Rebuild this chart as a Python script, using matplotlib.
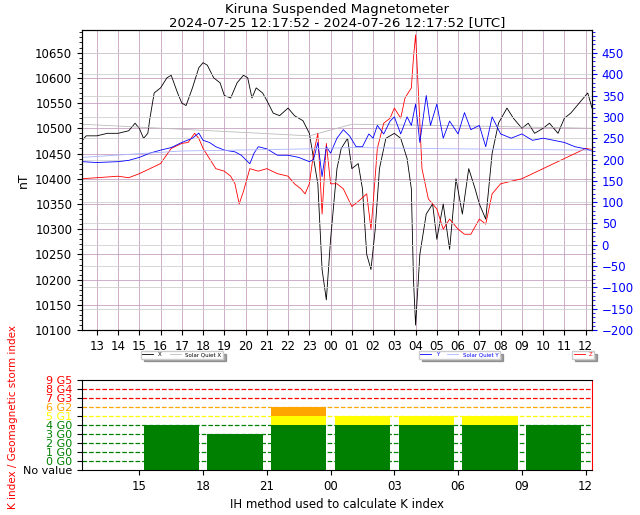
import matplotlib
matplotlib.use("Agg")
import matplotlib.pyplot as plt
from matplotlib.ticker import MultipleLocator

# hours since 2024-07-25 00:00 (24 = 00 next day)
x_t = [12.3, 12.5, 13, 13.5, 14, 14.5, 14.8, 15, 15.2, 15.4, 15.5, 15.7, 16, 16.3, 16.5, 16.8, 17, 17.2, 17.5, 17.8,
       18, 18.2, 18.5, 18.8, 19, 19.3, 19.6, 19.9, 20.1, 20.3, 20.5, 20.8, 21, 21.3, 21.6, 22, 22.3, 22.7, 23, 23.2,
       23.4, 23.6, 23.8, 24.0, 24.3, 24.5, 24.8, 25, 25.3, 25.5, 25.7, 25.9, 26.1, 26.3, 26.6, 27, 27.3, 27.6, 27.8,
       27.9, 28, 28.2, 28.5, 28.8, 29, 29.3, 29.6, 29.9, 30.2, 30.5, 30.8, 31, 31.3, 31.6, 31.9, 32.3, 32.6, 33, 33.3,
       33.6, 34, 34.3, 34.7, 35, 35.3, 35.6, 35.9, 36.1, 36.3]
x_v = [10475, 10485, 10485, 10490, 10490, 10495, 10510, 10500, 10480, 10490, 10520, 10570, 10580, 10600, 10605, 10570,
       10550, 10545, 10580, 10620, 10630, 10625, 10600, 10590, 10565, 10560, 10590, 10605, 10600, 10560, 10580, 10570,
       10555, 10530, 10525, 10540, 10525, 10515, 10490, 10440, 10390, 10220, 10160, 10280, 10420, 10460, 10480, 10420,
       10430, 10380, 10250, 10220, 10300, 10420, 10480, 10490, 10480, 10440, 10380, 10200, 10110, 10250, 10330, 10350,
       10280, 10350, 10260, 10400, 10330, 10420, 10380, 10350, 10320, 10450, 10510, 10540, 10520, 10500, 10510, 10490,
       10500, 10510, 10490, 10520, 10530, 10545, 10560, 10570, 10540]

z_t = [12.3, 13, 14, 14.5, 15, 15.5, 16, 16.5, 17, 17.3, 17.6, 17.8, 18, 18.3, 18.6, 19, 19.3, 19.5, 19.7, 19.9, 20.2,
       20.6, 21, 21.5, 22, 22.3, 22.6, 22.8, 23, 23.2, 23.4, 23.6, 23.8, 24, 24.3, 24.6, 25, 25.3, 25.7, 25.9, 26, 26.2,
       26.5, 26.8, 27, 27.3, 27.5, 27.8, 27.9, 28, 28.1, 28.3, 28.6, 29, 29.3, 29.6, 30, 30.3, 30.6, 31, 31.3, 31.6,
       32, 32.5, 33, 33.5, 34, 34.5, 35, 35.5, 36, 36.3]
z_v = [10400, 10402, 10405, 10402, 10410, 10420, 10430, 10460, 10470, 10472, 10490, 10480, 10460, 10440, 10420, 10415,
       10405, 10390, 10350, 10375, 10420, 10415, 10420, 10410, 10405, 10390, 10380, 10370, 10390, 10450, 10490, 10330,
       10470, 10390, 10390, 10380, 10345, 10355, 10370, 10300, 10350, 10460, 10510, 10520, 10540, 10520, 10560, 10580,
       10640, 10685, 10600, 10420, 10360, 10340, 10300, 10320, 10300, 10290, 10290, 10320, 10310, 10370, 10390, 10395,
       10400, 10410, 10420, 10430, 10440, 10450, 10460, 10458]

y_t = [12.3, 13, 14, 14.5, 15, 15.5, 16, 16.5, 17, 17.5, 17.8, 18, 18.3, 18.6, 19, 19.5, 19.8, 20, 20.2, 20.4, 20.6,
       21, 21.5, 22, 22.5, 23, 23.2, 23.4, 23.6, 23.8, 24, 24.3, 24.6, 24.9, 25.2, 25.5, 25.8, 26, 26.2, 26.5, 26.8,
       27, 27.3, 27.6, 27.8, 28, 28.2, 28.5, 28.7, 29, 29.3, 29.6, 30, 30.3, 30.6, 31, 31.3, 31.6, 32, 32.5, 33, 33.5,
       34, 34.5, 35, 35.5, 36, 36.3]
y_v = [195, 193, 195, 198, 205, 215, 222, 228, 240, 250, 262, 245, 240, 230, 222, 218, 210, 200, 190, 215, 230, 225,
       210, 210, 205, 195, 200, 240, 160, 230, 215, 250, 270, 255, 230, 230, 260, 250, 280, 260, 290, 300, 260, 300,
       280, 330, 240, 350, 280, 330, 250, 290, 260, 310, 270, 280, 230, 300, 260, 250, 260, 245, 250, 245, 240, 230,
       225, 220]

sq_t = [12.3, 17, 23, 25, 30, 36.3]
sqx_v = [10508, 10498, 10485, 10508, 10505, 10500]
sqy_v = [205, 220, 225, 228, 225, 222]

# K index, 3-hour blocks
k_start = [15, 18, 21, 24, 27, 30, 33]
k_val = [4, 3, 6, 5, 5, 5, 4]

fig = plt.figure(figsize=(6.4, 5.15), dpi=100)
ax = fig.add_axes([0.128, 0.359, 0.797, 0.583])
ax2 = ax.twinx()

ax.plot(x_t, x_v, color="black", lw=0.6, label="X")
ax.plot(sq_t, sqx_v, color="#bbbbbb", lw=0.6, label="Solar Quiet X")
ax.plot(z_t, z_v, color="red", lw=0.6, label="Z")
ax2.plot(y_t, y_v, color="blue", lw=0.6, label="Y")
ax2.plot(sq_t, sqy_v, color="#aab4ff", lw=0.6, label="Solar Quiet Y")

ax.set_xlim(12.3, 36.3)
ax.set_ylim(10100, 10695)
ax2.set_ylim(-200, 504)
ax.set_xticks(range(13, 37))
ax.set_xticklabels([f"{h % 24:02d}" for h in range(13, 37)], fontsize=8.5)
ax.set_yticks(range(10100, 10651, 50))
ax.tick_params(axis="y", labelsize=8.5)
ax.yaxis.set_minor_locator(MultipleLocator(10))
ax2.set_yticks(range(-200, 451, 50))
ax2.yaxis.set_minor_locator(MultipleLocator(10))
ax2.tick_params(axis="y", colors="blue", labelsize=8.5)
ax2.tick_params(axis="y", which="minor", colors="blue")
ax.set_ylabel("nT", fontsize=9)
ax.grid(True, color="#c8a0c0", lw=0.6)
ax2.grid(True, axis="y", color="#d0d0d0", lw=0.6)
ax.set_title("Kiruna Suspended Magnetometer\n2024-07-25 12:17:52 - 2024-07-26 12:17:52 [UTC]",
             fontsize=9.5, pad=3, linespacing=1.0)

leg_kw = dict(fontsize=4, shadow=True, fancybox=False, handlelength=2, borderpad=0.25, labelspacing=0.2,
              columnspacing=1.5)
lx = ax.legend(handles=ax.lines[:2], loc="upper left", bbox_to_anchor=(0.11, -0.06), ncol=2, **leg_kw)
ax.add_artist(lx)
l3 = ax.legend(handles=ax.lines[2:], loc="upper right", bbox_to_anchor=(1.01, -0.06), **leg_kw)
for t in l3.get_texts():
    t.set_color("red")
l2 = ax2.legend(loc="upper left", bbox_to_anchor=(0.655, -0.06), ncol=2, **leg_kw)
for t in l2.get_texts():
    t.set_color("blue")

# K index panel
bx = fig.add_axes([0.128, 0.087, 0.797, 0.175])
levels = [(-1, 4, "green"), (4, 5, "yellow"), (5, 6, "orange")]
for s, k in zip(k_start, k_val):
    for lo, hi, c in levels:
        if k > lo:
            bx.bar(s + 0.2, min(k, hi) - lo, bottom=lo, width=2.6, align="edge", color=c)
ycols = ["black"] + ["green"] * 5 + ["yellow", "orange", "red", "red", "red"]
ylabs = ["No value", "0 G0", "1 G0", "2 G0", "3 G0", "4 G0", "5 G1", "6 G2", "7 G3", "8 G4", "9 G5"]
for lvl, c in zip(range(0, 9), ycols[1:10]):
    bx.axhline(lvl, color=c, ls="--", lw=0.9, zorder=0)
bx.set_ylim(-1, 9)
bx.set_yticks(range(-1, 10))
bx.set_yticklabels(ylabs, fontsize=8)
for t, c in zip(bx.get_yticklabels(), ycols):
    t.set_color(c)
bx.set_xlim(12.3, 36.3)
bx.set_xticks(range(15, 37, 3))
bx.set_xticklabels([f"{h % 24:02d}" for h in range(15, 37, 3)], fontsize=8.5)
bx.set_xlabel("IH method used to calculate K index", fontsize=8.5)
bx.spines["right"].set_color("red")
fig.text(0.012, 0.19, "K index / Geomagnetic storm index", color="red", rotation=90, fontsize=7.5, va="center")

fig.savefig("out.png", dpi=100)
